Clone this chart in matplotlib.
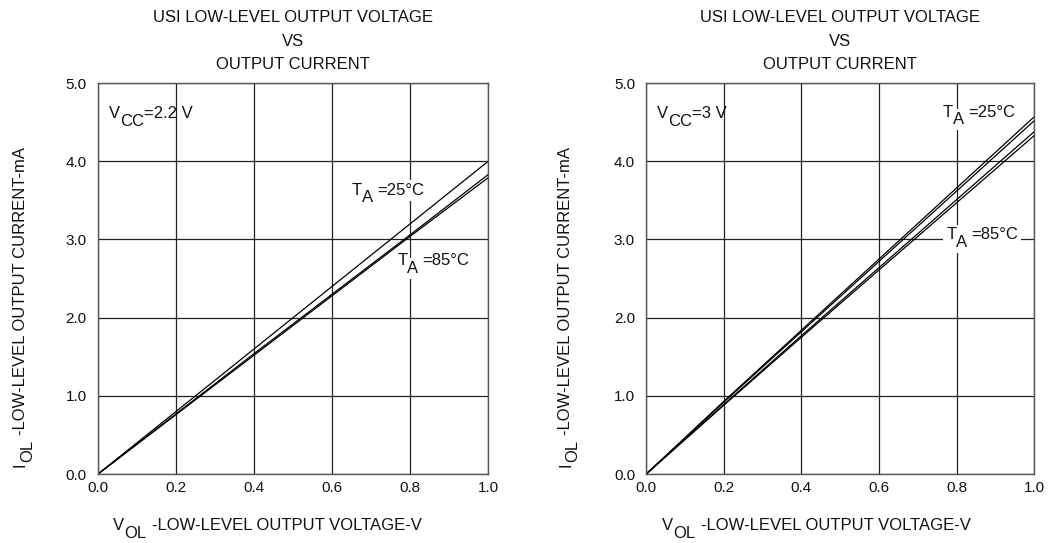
import matplotlib
matplotlib.use("Agg")
from matplotlib import pyplot as plt

plt.rcParams["font.family"] = ["Liberation Sans", "DejaVu Sans"]

# V_OL in volts
vol = [0.0, 0.2, 0.4, 0.6, 0.8, 1.0]

# VCC = 2.2 V
left_25 = [0.0, 0.80, 1.60, 2.40, 3.20, 4.00]
left_85a = [0.0, 0.77, 1.54, 2.30, 3.06, 3.83]
left_85b = [0.0, 0.76, 1.52, 2.28, 3.04, 3.79]

# VCC = 3 V
right_25a = [0.0, 0.93, 1.84, 2.75, 3.66, 4.57]
right_25b = [0.0, 0.92, 1.82, 2.72, 3.62, 4.52]
right_85a = [0.0, 0.89, 1.77, 2.64, 3.51, 4.38]
right_85b = [0.0, 0.88, 1.75, 2.61, 3.47, 4.33]

xticks = [0.0, 0.2, 0.4, 0.6, 0.8, 1.0]
yticks = [0.0, 1.0, 2.0, 3.0, 4.0, 5.0]

FS = 12
TICK_FS = 11
TXT = "#111111"
W, H = 1049, 543

fig = plt.figure(figsize=(W / 100, H / 100), dpi=100)
ax1 = fig.add_axes([0.0934, 0.127, 0.372, 0.72])
ax2 = fig.add_axes([0.616, 0.127, 0.370, 0.72])


def sub_text(ax, x, y, main, sub, rest, transform, rotation=0, box=None, gap=0):
    # text with a full-size, lowered subscript, e.g. V_OL
    kw = dict(fontsize=FS, color=TXT, bbox=box)
    d = 0.45 * FS
    if rotation == 0:
        t1 = ax.text(x, y, main, transform=transform, ha="left",
                     va="baseline", **kw)
        t2 = ax.annotate(sub, xy=(1, 0), xycoords=t1, xytext=(0, -d),
                         textcoords="offset points", ha="left", va="bottom", **kw)
        ax.annotate(rest, xy=(1, 0), xycoords=t2, xytext=(gap, d),
                    textcoords="offset points", ha="left", va="bottom", **kw)
    else:
        t1 = ax.text(x, y, main, transform=transform, rotation=90,
                     rotation_mode="anchor", ha="left", va="baseline", **kw)
        t2 = ax.annotate(sub, xy=(0, 1), xycoords=t1, xytext=(d, 0),
                         textcoords="offset points", rotation=90,
                         ha="left", va="bottom", **kw)
        ax.annotate(rest, xy=(0, 1), xycoords=t2, xytext=(-d, gap),
                    textcoords="offset points", rotation=90,
                    ha="left", va="bottom", **kw)


def style(ax, vcc, xlab_px, ylab_px):
    ax.set_xlim(0, 1.0)
    ax.set_ylim(0, 5.0)
    ax.set_xticks(xticks)
    ax.set_yticks(yticks)
    ax.set_xticklabels([f"{t:.1f}" for t in xticks], fontsize=TICK_FS, color=TXT)
    ax.set_yticklabels([f"{t:.1f}" for t in yticks], fontsize=TICK_FS, color=TXT)
    ax.tick_params(axis="x", length=0, pad=5)
    ax.tick_params(axis="y", length=0, pad=8)
    ax.grid(True, color="#222222", linewidth=0.9)
    ax.set_axisbelow(True)
    for s in ax.spines.values():
        s.set_color("#555555")
        s.set_linewidth(1.0)
    ax.set_title("USI LOW-LEVEL OUTPUT VOLTAGE\nVS\nOUTPUT CURRENT",
                 fontsize=FS, pad=10, linespacing=1.7, color=TXT)
    sub_text(ax, xlab_px / W, 1 - 530 / H, "V", "OL",
             "-LOW-LEVEL OUTPUT VOLTAGE-V", fig.transFigure, gap=4)
    sub_text(ax, ylab_px / W, 1 - 467 / H, "I", "OL",
             "-LOW-LEVEL OUTPUT CURRENT-mA", fig.transFigure, rotation=90, gap=4)
    sub_text(ax, 0.028, 4.55, "V", "CC", "=" + vcc, ax.transData)


style(ax1, "2.2 V", 113, 25)
style(ax2, "3 V", 662, 570)

box = dict(facecolor="white", edgecolor="none", pad=2.0)
lw = 0.9
ax1.plot(vol, left_25, color="black", linewidth=lw)
ax1.plot(vol, left_85a, color="black", linewidth=lw)
ax1.plot(vol, left_85b, color="black", linewidth=lw)
sub_text(ax1, 0.651, 3.57, "T", "A", "=25°C", ax1.transData, box=box, gap=3)
sub_text(ax1, 0.767, 2.67, "T", "A", "=85°C", ax1.transData, box=box, gap=3)

ax2.plot(vol, right_25a, color="black", linewidth=lw)
ax2.plot(vol, right_25b, color="black", linewidth=lw)
ax2.plot(vol, right_85a, color="black", linewidth=lw)
ax2.plot(vol, right_85b, color="black", linewidth=lw)
sub_text(ax2, 0.765, 4.57, "T", "A", "=25°C", ax2.transData, box=box, gap=3)
sub_text(ax2, 0.773, 3.0, "T", "A", "=85°C", ax2.transData, box=box, gap=3)

fig.savefig("out.png", dpi=100)
plt.close(fig)
